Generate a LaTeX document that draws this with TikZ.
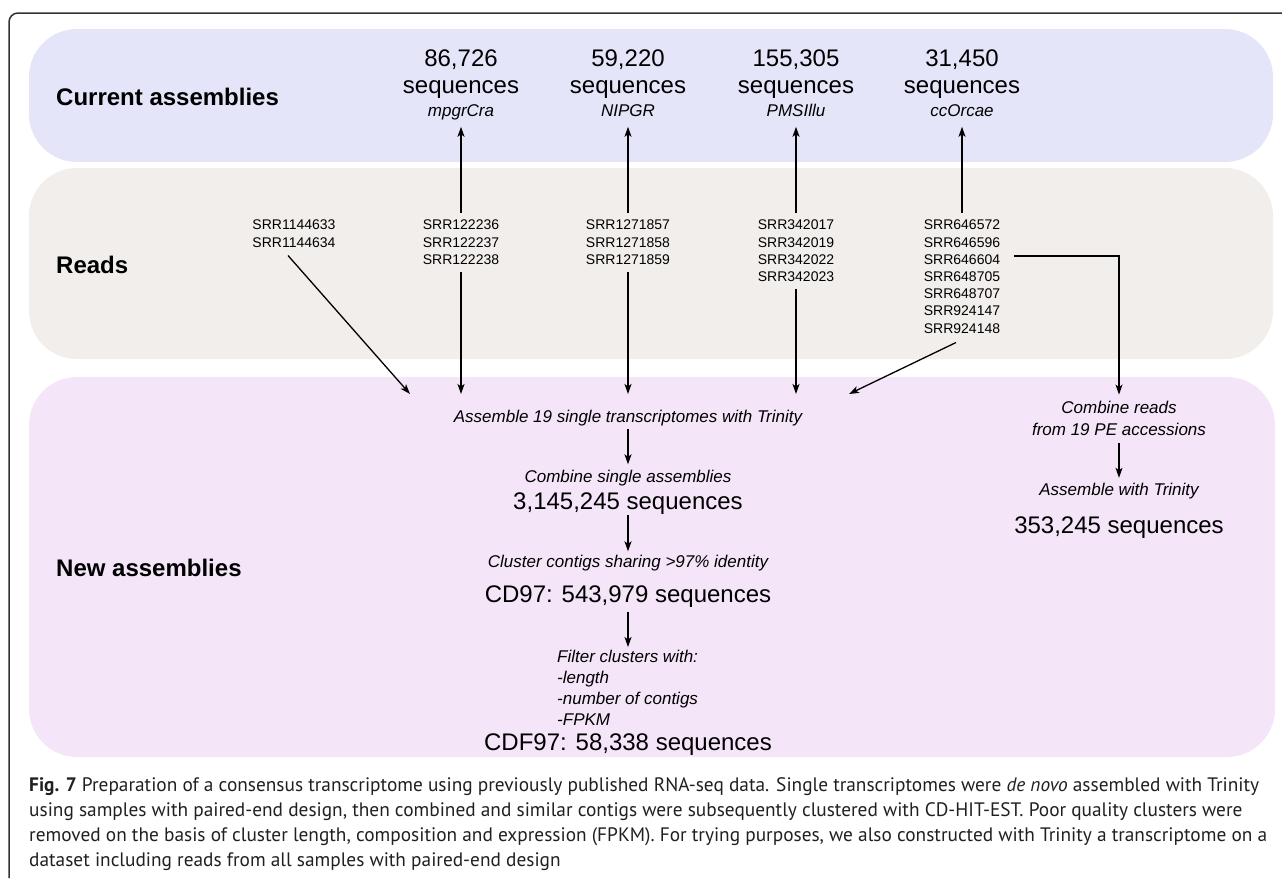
\documentclass[tikz,border=0pt]{standalone}
\usepackage{fontspec}
\usepackage{graphicx}
\setmainfont{Liberation Sans}
\newfontfamily\capfont{PT Sans}
\usetikzlibrary{arrows.meta,calc}
\definecolor{bandblue}{HTML}{E5E5FA}
\definecolor{bandgray}{HTML}{F1EEEC}
\definecolor{bandpurple}{HTML}{F4E6F8}
\definecolor{captxt}{HTML}{231F20}
\newlength\capw
\newcommand\capsize{\capfont\fontsize{19.5}{25}\selectfont}
\begin{document}
\settowidth\capw{\capsize\textbf{Fig. 7} Preparation of a consensus transcriptome using previously published RNA-seq data. Single transcriptomes were \textit{de novo} assembled with Trinity}%
\pgfmathsetmacro\capsx{1230/\capw}%
\begin{tikzpicture}[x=1pt,y=-1pt,
  band/.style={rounded corners=48pt},
  frame/.style={draw=black!80,line width=1.5pt,rounded corners=9pt},
  lbl/.style={font=\fontsize{24}{28}\selectfont\bfseries,anchor=base west,inner sep=0pt},
  big/.style={font=\fontsize{24}{28}\selectfont,anchor=base,inner sep=0pt,text height=17.5pt,text depth=5pt},
  ital/.style={font=\fontsize{17}{20}\selectfont\itshape,anchor=base,inner sep=0pt,text height=12.5pt,text depth=3.6pt},
  srr/.style={font=\fontsize{14}{17.2}\selectfont,align=center,anchor=north,inner sep=0pt},
  arr/.style={line width=1.3pt,-{Stealth[length=10pt,width=7pt,inset=2.5pt]}},
  captext/.style={anchor=base west,inner sep=0pt,text=captxt}
]
\useasboundingbox (0,0) rectangle (1282,878);
% frame and bands
\draw[frame] (1282,13) -- (9,13) -- (9,878);
\fill[bandblue,band] (29,29) rectangle (1273,162);
\fill[bandgray,band] (29,168) rectangle (1273,359);
\fill[bandpurple,band] (29,377) rectangle (1275,757);
% row labels
\node[lbl] (hcur) at (56,105.5) {Current assemblies};
\node[lbl] (hreads) at (56,273.5) {Reads};
\node[lbl] (hnew) at (56,576.5) {New assemblies};
% current assemblies
\node[big] (n1) at (461,66) {86,726};
\node[big] (q1) at (461,93) {sequences};
\node[ital] (m1) at (461,116) {mpgrCra};
\node[big] (n2) at (628,66) {59,220};
\node[big] (q2) at (628,93) {sequences};
\node[ital] (m2) at (628,116) {NIPGR};
\node[big] (n3) at (796,66) {155,305};
\node[big] (q3) at (796,93) {sequences};
\node[ital] (m3) at (796,116) {PMSIllu};
\node[big] (n4) at (962,66) {31,450};
\node[big] (q4) at (962,93) {sequences};
\node[ital] (m4) at (962,116) {ccOrcae};
% reads
\node[srr] (s0) at (294,220) {SRR1144633\\SRR1144634};
\node[srr] (s1) at (461,220) {SRR122236\\SRR122237\\SRR122238};
\node[srr] (s2) at (628,220) {SRR1271857\\SRR1271858\\SRR1271859};
\node[srr] (s3) at (796,220) {SRR342017\\SRR342019\\SRR342022\\SRR342023};
\node[srr] (s4) at (962,220) {SRR646572\\SRR646596\\SRR646604\\SRR648705\\SRR648707\\SRR924147\\SRR924148};
% new assemblies, main chain
\node[ital] (asm) at (628,422.5) {Assemble 19 single transcriptomes with Trinity};
\node[ital] (comb) at (628,482.5) {Combine single assemblies};
\node[big] (tot) at (628,509) {3,145,245 sequences};
\node[ital] (clus) at (628,567.5) {Cluster contigs sharing >97\% identity};
\node[big] (cd) at (628,602) {CD97: 543,979 sequences};
\node[font=\fontsize{17}{21}\selectfont\itshape,align=left,anchor=north west,inner sep=0pt] (filt) at (557,649.7) {Filter clusters with:\\-length\\-number of contigs\\-FPKM};
\node[big] (cdf) at (628,750) {CDF97: 58,338 sequences};
% new assemblies, pooled chain
\node[font=\fontsize{17}{22}\selectfont\itshape,align=center,anchor=north,inner sep=0pt] (pool) at (1119,400.6) {Combine reads\\from 19 PE accessions};
\node[ital] (asm2) at (1119,495) {Assemble with Trinity};
\node[big] (tot2) at (1119,533.5) {353,245 sequences};
% helper coordinates
\coordinate (inl) at (410,394);
\coordinate (inr) at (849,394);
\coordinate (iny) at (0,394);
\coordinate (el) at (0,256);
% connectors
\foreach \i in {1,...,4} \draw[arr] ([yshift=7pt]s\i.north) -- ([yshift=-7pt]m\i.south);
\draw[arr] ([xshift=-6pt,yshift=-8pt]s0.south) -- (inl);
\draw[arr] ([yshift=-7.5pt]s1.south) -- (s1.south |- iny);
\draw[arr] ([yshift=-7.5pt]s2.south) -- (s2.south |- iny);
\draw[arr] ([yshift=-7.5pt]s3.south) -- (s3.south |- iny);
\draw[arr] ([xshift=-6pt,yshift=-9pt]s4.south) -- (inr);
\draw[arr] ([xshift=14pt]s4.east |- el) -- (pool.north |- el) -- ([yshift=6pt]pool.north);
\draw[arr] ([yshift=-2.5pt]asm.south) -- ([yshift=5.5pt]comb.north);
\draw[arr] ([yshift=-1pt]tot.south) -- ([yshift=3.5pt]clus.north);
\draw[arr] ([yshift=-4.5pt]cd.south) -- ([yshift=2.7pt]cd.south |- filt.north);
\draw[arr] ([yshift=-8pt]pool.south) -- ([yshift=4.5pt]asm2.north);
% caption
\node[captext] (cap1) at (29,791) {\scalebox{\capsx}[1]{\capsize\textbf{Fig. 7} Preparation of a consensus transcriptome using previously published RNA-seq data. Single transcriptomes were \textit{de novo} assembled with Trinity}};
\node[captext] (cap2) at (29,816) {\scalebox{\capsx}[1]{\capsize using samples with paired-end design, then combined and similar contigs were subsequently clustered with CD-HIT-EST. Poor quality clusters were}};
\node[captext] (cap3) at (29,841) {\scalebox{\capsx}[1]{\capsize removed on the basis of cluster length, composition and expression (FPKM). For trying purposes, we also constructed with Trinity a transcriptome on a}};
\node[captext] (cap4) at (29,866) {\scalebox{\capsx}[1]{\capsize dataset including reads from all samples with paired-end design}};
\end{tikzpicture}
\end{document}
